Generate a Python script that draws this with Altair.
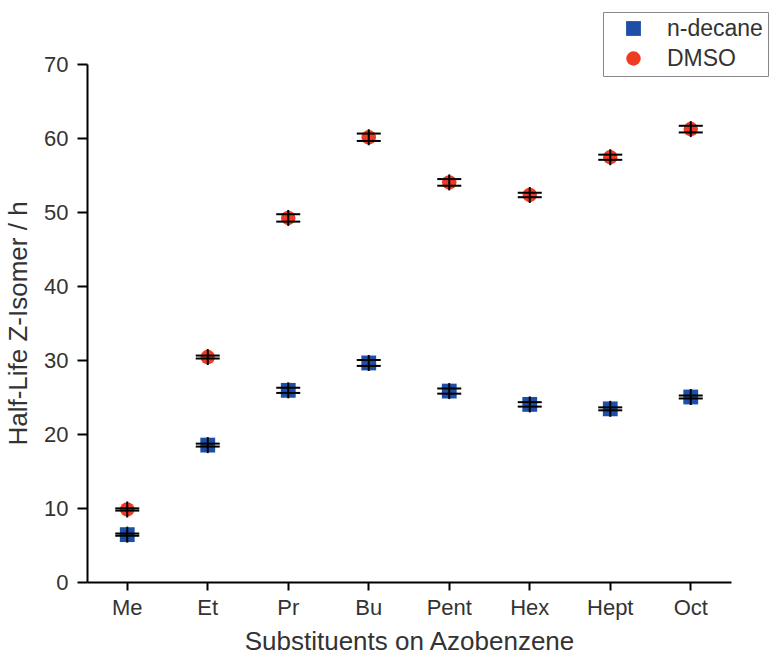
import altair as alt
import pandas as pd

categories = ["Me", "Et", "Pr", "Bu", "Pent", "Hex", "Hept", "Oct"]
series_names = ["n-decane", "DMSO"]
decane_values = [6.4, 18.5, 25.9, 29.6, 25.8, 24.0, 23.4, 25.0]
decane_errors = [0.15, 0.2, 0.35, 0.4, 0.35, 0.3, 0.2, 0.2]
dmso_values = [9.8, 30.4, 49.2, 60.1, 54.0, 52.3, 57.4, 61.2]
dmso_errors = [0.15, 0.2, 0.5, 0.5, 0.45, 0.3, 0.35, 0.45]
y_ticks = [0, 5, 10, 15, 20, 25, 30, 35, 40, 45, 50, 55, 60, 65, 70]

rows = []
for name, vals, errs in [("n-decane", decane_values, decane_errors), ("DMSO", dmso_values, dmso_errors)]:
    for c, v, e in zip(categories, vals, errs):
        rows.append({"sub": c, "solvent": name, "value": v, "lo": v - e, "hi": v + e})
df = pd.DataFrame(rows)

FONT = "Liberation Sans"
TXT = "#333333"

x_enc = alt.X("sub:N", sort=categories, title="Substituents on Azobenzene",
              axis=alt.Axis(labelAngle=0, labelFontSize=22, labelColor=TXT, labelFont=FONT,
                            titleFontSize=26, titleColor=TXT, titleFont=FONT, titleFontWeight="normal",
                            domainColor="black", domainWidth=2, tickColor="black", tickWidth=2,
                            tickSize=8, labelPadding=7, titlePadding=10, grid=False))
y_scale = alt.Scale(domain=[0, 70], nice=False)

base = alt.Chart(df)

points = base.mark_point(filled=True, opacity=1, strokeWidth=0).encode(
    x=x_enc,
    y=alt.Y("value:Q", scale=y_scale, title="Half-Life Z-Isomer / h",
            axis=alt.Axis(values=y_ticks,
                          labelExpr="datum.value % 10 === 0 ? datum.label : ''",
                          tickSize={"condition": {"test": "datum.value % 10 === 0", "value": 10}, "value": 5},
                          labelFontSize=22, labelColor=TXT, labelFont=FONT,
                          titleFontSize=26, titleColor=TXT, titleFont=FONT, titleFontWeight="normal",
                          domainColor="black", domainWidth=2, tickColor="black", tickWidth=2,
                          labelPadding=9, titlePadding=12, grid=False)),
    color=alt.Color("solvent:N", scale=alt.Scale(domain=series_names, range=["#1E4FA8", "#EE3B24"]),
                    legend=alt.Legend(title=None, orient="none", legendX=516, legendY=-52,
                                      labelFontSize=23, labelFont=FONT, labelColor=TXT,
                                      symbolSize=220, symbolStrokeWidth=0, symbolOffset=14,
                                      labelOffset=22, rowPadding=6, padding=5,
                                      strokeColor="#888888", fillColor="white", symbolOpacity=1)),
    shape=alt.Shape("solvent:N", scale=alt.Scale(domain=series_names, range=["square", "circle"])),
    size=alt.Size("solvent:N", scale=alt.Scale(domain=series_names, range=[220, 210]), legend=None),
)

caps_lo = base.mark_tick(color="black", thickness=2, size=24, opacity=1).encode(
    x=alt.X("sub:N", sort=categories), y=alt.Y("lo:Q", scale=y_scale))
caps_hi = base.mark_tick(color="black", thickness=2, size=24, opacity=1).encode(
    x=alt.X("sub:N", sort=categories), y=alt.Y("hi:Q", scale=y_scale))
vbar = base.mark_point(shape="M0,-1L0,1", color="black", strokeWidth=2, filled=False, size=256, opacity=1).encode(
    x=alt.X("sub:N", sort=categories), y=alt.Y("value:Q", scale=y_scale))

chart = alt.layer(points, caps_lo, caps_hi, vbar).properties(
    width=644, height=518,
    background="white",
    autosize=alt.AutoSizeParams(type="none"),
    padding={"left": 87, "top": 64, "right": 41, "bottom": 75},
).configure_view(stroke="transparent", strokeWidth=0)

chart.save("out.html", embed_options={"renderer": "svg", "actions": False})
